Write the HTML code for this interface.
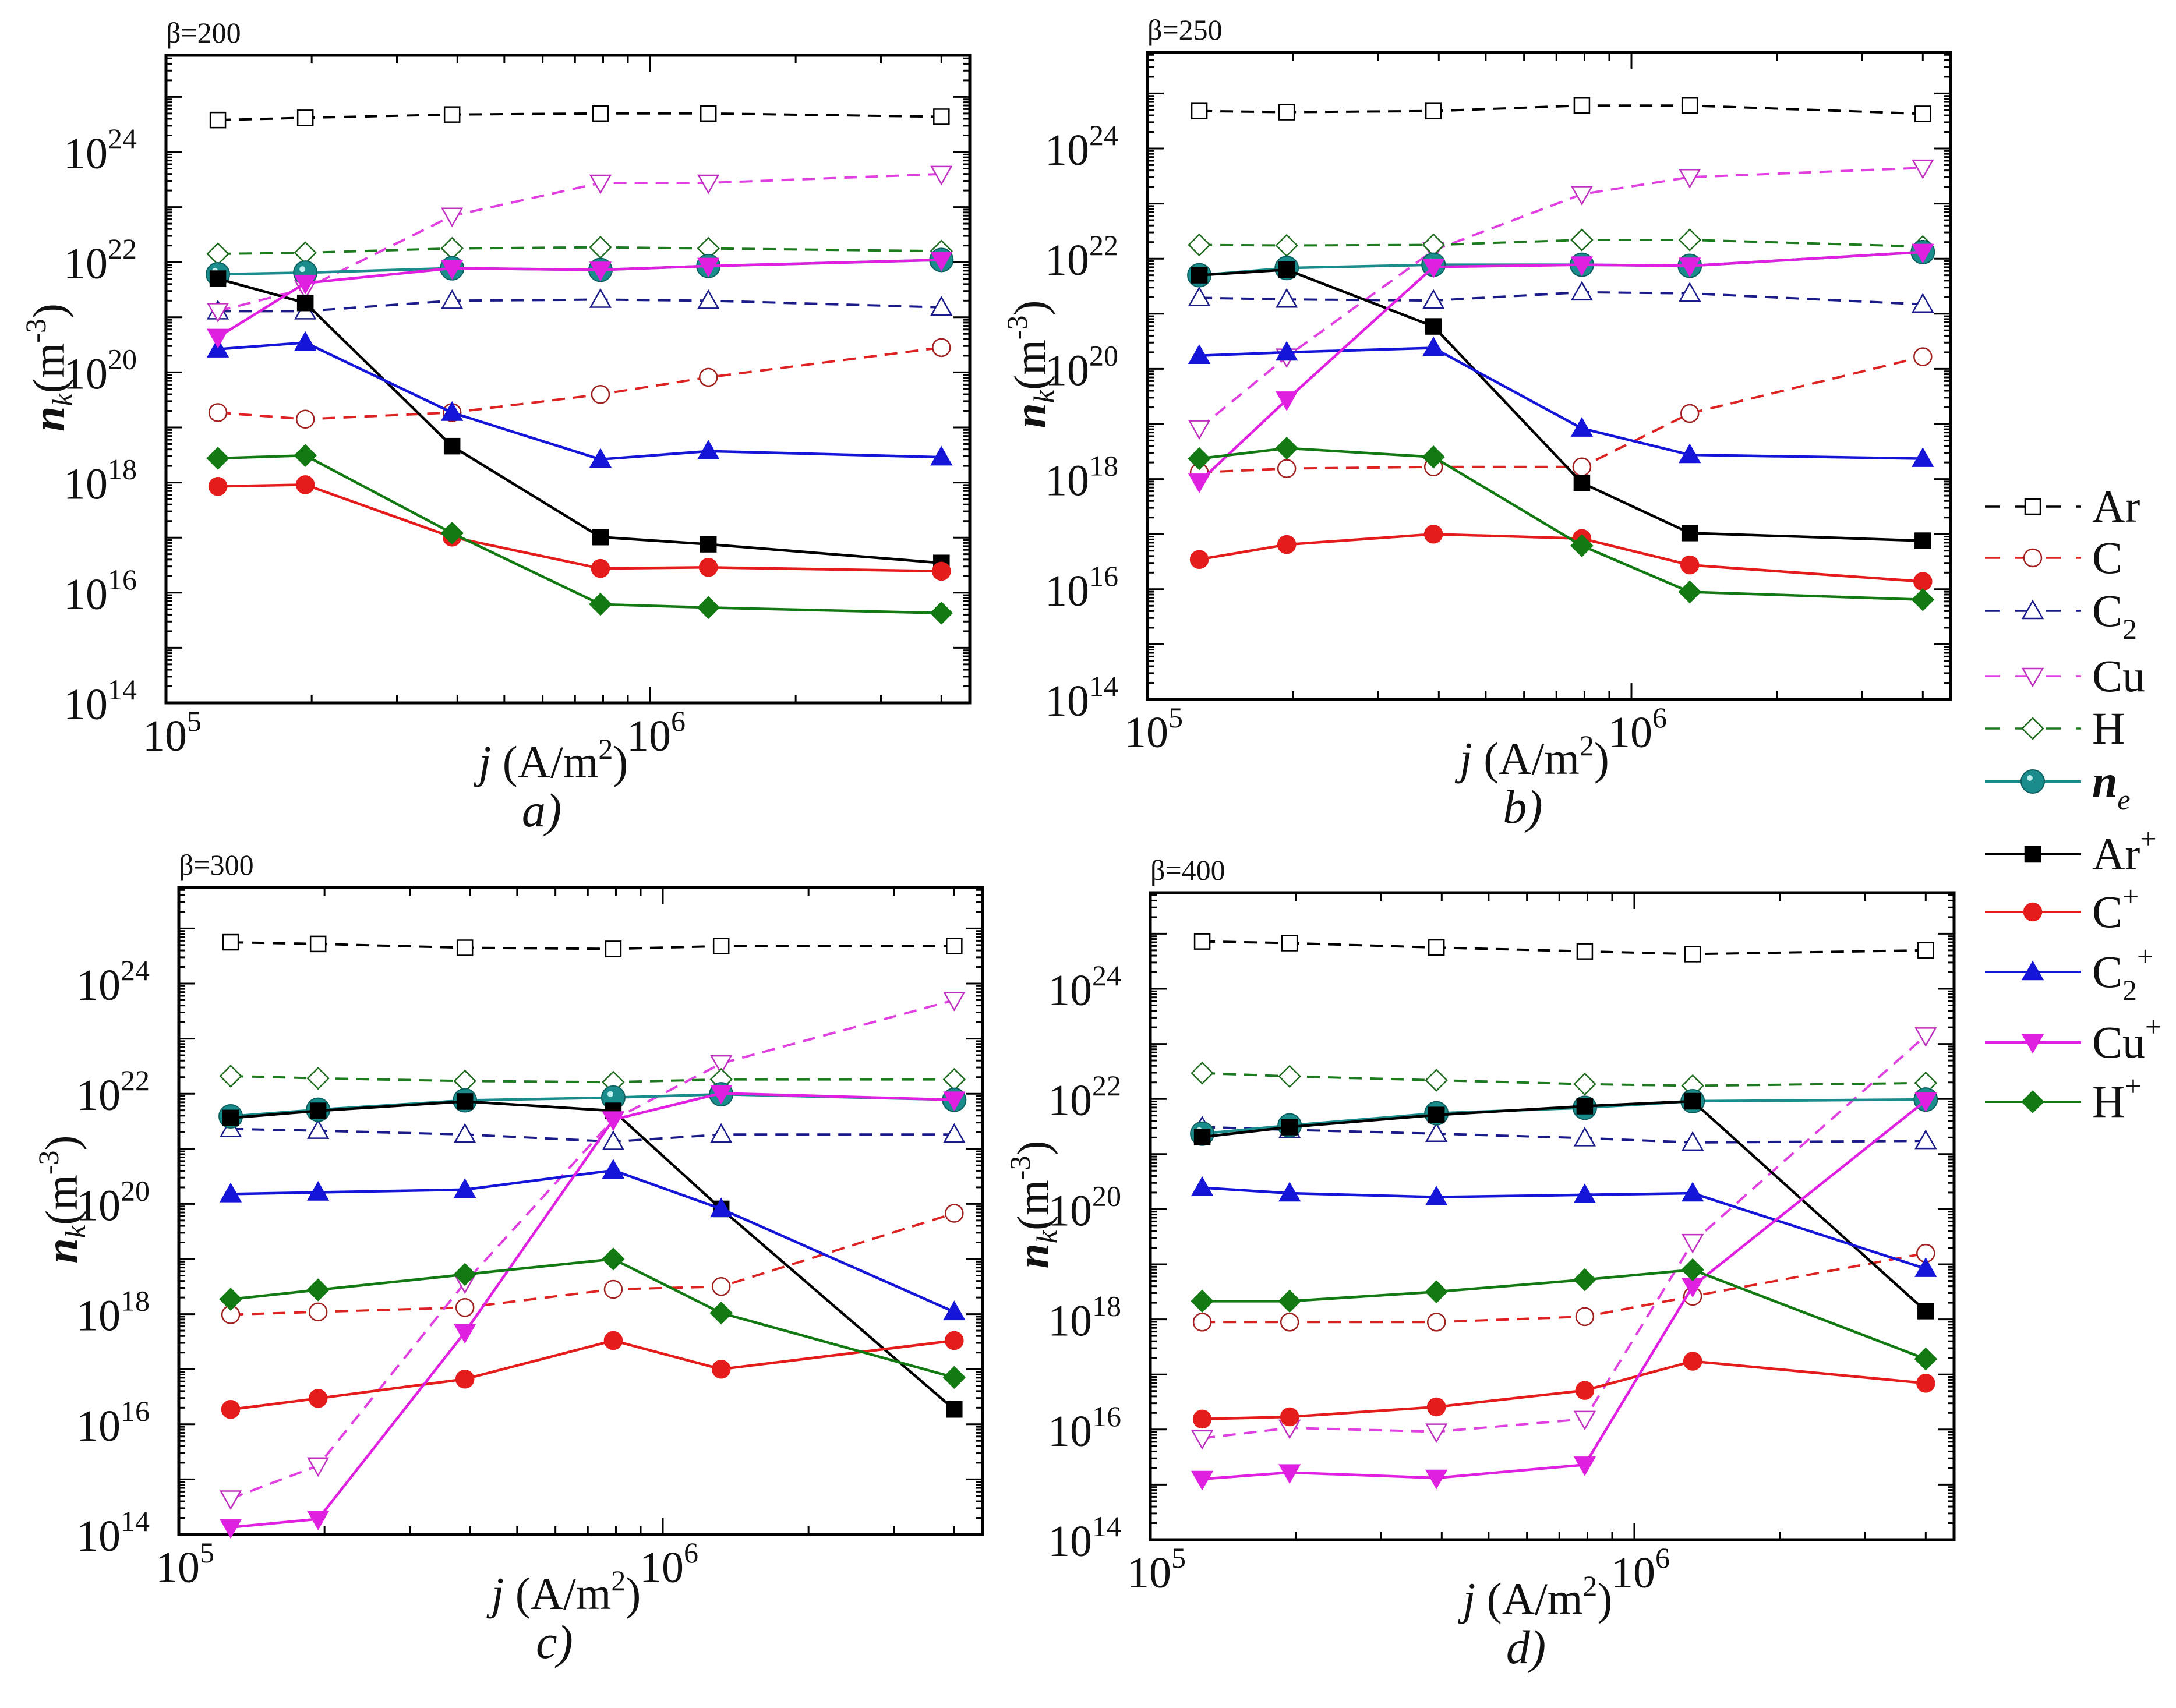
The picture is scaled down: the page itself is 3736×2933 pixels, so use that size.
<!DOCTYPE html>
<html><head><meta charset="utf-8">
<style>
html,body{margin:0;padding:0;background:#fff;}
svg{display:block;}
text{font-family:"Liberation Serif",serif;fill:#111;}
</style></head>
<body>
<svg id="chart" xmlns="http://www.w3.org/2000/svg" width="3736" height="2933" viewBox="0 0 3736 2933">
<rect x="0" y="0" width="3736" height="2933" fill="#fff"/>
<g id="panels"></g>
<g id="legend"></g>
</svg>
<script>
// Current density values (A/m^2)
const jValues = [1.28e5, 1.94e5, 3.9e5, 7.9e5, 1.32e6, 4.0e6];
// log10 of densities, panel a (beta=200)
const a_Ar  = [24.58,24.62,24.68,24.70,24.70,24.64];
const a_C   = [19.27,19.15,19.27,19.60,19.91,20.45];
const a_C2  = [21.11,21.11,21.30,21.32,21.30,21.18];
const a_Cu  = [21.11,21.52,22.84,23.44,23.44,23.60];
const a_H   = [22.15,22.17,22.25,22.27,22.25,22.20];
const a_ne  = [21.78,21.81,21.89,21.86,21.93,22.04];
const a_ArP = [21.70,21.26,18.66,17.01,16.88,16.54];
const a_CP  = [17.93,17.96,17.01,16.44,16.46,16.39];
const a_C2P = [20.42,20.54,19.27,18.42,18.57,18.46];
const a_CuP = [20.64,21.62,21.89,21.86,21.93,22.04];
const a_HP  = [18.44,18.49,17.08,15.79,15.73,15.63];
// panel b (beta=250)
const b_Ar  = [24.68,24.66,24.68,24.78,24.78,24.63];
const b_C   = [18.12,18.19,18.22,18.22,19.19,20.22];
const b_C2  = [21.29,21.26,21.24,21.39,21.37,21.17];
const b_Cu  = [18.92,20.22,22.15,23.17,23.48,23.65];
const b_H   = [22.25,22.24,22.25,22.34,22.34,22.22];
const b_ne  = [21.70,21.83,21.89,21.89,21.87,22.12];
const b_ArP = [21.70,21.80,20.77,17.93,17.02,16.88];
const b_CP  = [16.54,16.81,17.00,16.92,16.44,16.14];
const b_C2P = [20.24,20.30,20.38,18.92,18.44,18.37];
const b_CuP = [17.95,19.44,21.85,21.89,21.87,22.12];
const b_HP  = [18.37,18.56,18.40,16.79,15.95,15.81];
// panel c (beta=300)
const c_Ar  = [24.75,24.72,24.65,24.63,24.68,24.68];
const c_C   = [17.99,18.04,18.12,18.45,18.50,19.83];
const c_C2  = [21.36,21.33,21.26,21.13,21.26,21.26];
const c_Cu  = [14.65,15.25,18.57,21.53,22.55,23.70];
const c_H   = [22.32,22.28,22.23,22.21,22.26,22.26];
const c_ne  = [21.59,21.71,21.88,21.93,21.99,21.89];
const c_ArP = [21.56,21.69,21.86,21.69,19.91,16.27];
const c_CP  = [16.27,16.47,16.82,17.52,17.00,17.52];
const c_C2P = [20.18,20.21,20.26,20.61,19.91,18.04];
const c_CuP = [14.13,14.28,17.67,21.53,22.01,21.89];
const c_HP  = [18.27,18.44,18.72,19.00,18.02,16.85];
// panel d (beta=400)
const d_Ar  = [24.86,24.83,24.75,24.68,24.63,24.70];
const d_C   = [17.95,17.95,17.95,18.05,18.42,19.20];
const d_C2  = [21.49,21.44,21.37,21.29,21.21,21.24];
const d_Cu  = [15.84,16.03,15.96,16.19,19.40,23.15];
const d_H   = [22.47,22.41,22.34,22.27,22.24,22.29];
const d_ne  = [21.37,21.52,21.74,21.84,21.96,21.99];
const d_ArP = [21.31,21.49,21.71,21.87,21.96,18.15];
const d_CP  = [16.19,16.23,16.41,16.71,17.24,16.84];
const d_C2P = [20.39,20.29,20.22,20.26,20.29,18.92];
const d_CuP = [15.10,15.22,15.12,15.36,18.60,21.97];
const d_HP  = [18.33,18.33,18.50,18.72,18.90,17.28];
// tick labels
const yTickExps = [14,16,18,20,22,24];
const xTickExps = [5,6];
const panelTitles = ["β=200","β=250","β=300","β=400"];
const panelLetters = ["a)","b)","c)","d)"];
const speciesNames = ["Ar","C","C2","Cu","H","ne","ArP","CP","C2P","CuP","HP"];

const NS="http://www.w3.org/2000/svg";
function mk(tag, attrs, parent){const e=document.createElementNS(NS,tag);for(const k in attrs)e.setAttribute(k,attrs[k]);if(parent)parent.appendChild(e);return e;}

const styles = {
  Ar:{color:"#000",dash:true,marker:"square",fill:"none",label:"Ar"},
  C:{color:"#d22",dash:true,marker:"circle",fill:"none",label:"C"},
  C2:{color:"#1a1a88",dash:true,marker:"tri",fill:"none",label:"C2"},
  Cu:{color:"#e040e0",dash:true,marker:"dtri",fill:"none",label:"Cu"},
  H:{color:"#1e7a1e",dash:true,marker:"diamond",fill:"none",label:"H"},
  ne:{color:"#1a8c8c",dash:false,marker:"sphere",fill:"#1a8c8c",label:"ne"},
  ArP:{color:"#000",dash:false,marker:"square",fill:"#000",label:"Ar+"},
  CP:{color:"#e51c1c",dash:false,marker:"circle",fill:"#e51c1c",label:"C+"},
  C2P:{color:"#1515d8",dash:false,marker:"tri",fill:"#1515d8",label:"C2+"},
  CuP:{color:"#e020e0",dash:false,marker:"dtri",fill:"#e020e0",label:"Cu+"},
  HP:{color:"#137a13",dash:false,marker:"diamond",fill:"#137a13",label:"H+"}
};
const markerStroke={Ar:"#000",C:"#a02020",C2:"#1a1a88",Cu:"#c030c0",H:"#1e6a1e"};

function marker(g, type, x, y, st, key){
  const s=15; let e;
  const fill = st.fill==="none" ? "#fff" : st.fill;
  const stroke = st.fill==="none" ? (markerStroke[key]||st.color) : st.fill;
  if(type==="square") e=mk("rect",{x:x-s+2,y:y-s+2,width:2*s-4,height:2*s-4,fill:fill,stroke:stroke,"stroke-width":2.5},g);
  else if(type==="circle") e=mk("circle",{cx:x,cy:y,r:s,fill:fill,stroke:stroke,"stroke-width":2.5},g);
  else if(type==="tri") e=mk("polygon",{points:`${x},${y-s-2} ${x+s+2},${y+s-2} ${x-s-2},${y+s-2}`,fill:fill,stroke:stroke,"stroke-width":2.5},g);
  else if(type==="dtri") e=mk("polygon",{points:`${x},${y+s+2} ${x+s+2},${y-s+2} ${x-s-2},${y-s+2}`,fill:fill,stroke:stroke,"stroke-width":2.5},g);
  else if(type==="diamond") e=mk("polygon",{points:`${x},${y-s-3} ${x+s+3},${y} ${x},${y+s+3} ${x-s-3},${y}`,fill:fill,stroke:stroke,"stroke-width":2.5},g);
  else if(type==="sphere"){ e=mk("circle",{cx:x,cy:y,r:s+5,fill:"#1a8c8c",stroke:"#0d5f5f","stroke-width":2},g); mk("circle",{cx:x-5,cy:y-6,r:5,fill:"#bfeeee"},g);}
  return e;
}

const frames = [
  {x0:285,y0:95,x1:1665,y1:1207},
  {x0:1970,y0:90,x1:3349,y1:1201},
  {x0:307,y0:1524,x1:1687,y1:2635},
  {x0:1975,y0:1533,x1:3355,y1:2644}
];
const panelData = [
  {Ar:a_Ar,C:a_C,C2:a_C2,Cu:a_Cu,H:a_H,ne:a_ne,ArP:a_ArP,CP:a_CP,C2P:a_C2P,CuP:a_CuP,HP:a_HP},
  {Ar:b_Ar,C:b_C,C2:b_C2,Cu:b_Cu,H:b_H,ne:b_ne,ArP:b_ArP,CP:b_CP,C2P:b_C2P,CuP:b_CuP,HP:b_HP},
  {Ar:c_Ar,C:c_C,C2:c_C2,Cu:c_Cu,H:c_H,ne:c_ne,ArP:c_ArP,CP:c_CP,C2P:c_C2P,CuP:c_CuP,HP:c_HP},
  {Ar:d_Ar,C:d_C,C2:d_C2,Cu:d_Cu,H:d_H,ne:d_ne,ArP:d_ArP,CP:d_CP,C2P:d_C2P,CuP:d_CuP,HP:d_HP}
];
const DEC_Y=94.6, DEC_X=831;
const drawOrder=["Ar","C","C2","Cu","H","ne","ArP","CP","C2P","CuP","HP"];
const panelsG=document.getElementById("panels");

frames.forEach((f,pi)=>{
  const g=mk("g",{},panelsG);
  
  
  const xs=v=>f.x0+(Math.log10(v)-5)*DEC_X;
  const ys=l=>f.y1-(l-14)*DEC_Y;
  const xMaxLog=5+(f.x1-f.x0)/DEC_X, yMaxLog=14+(f.y1-f.y0)/DEC_Y;
  const tg=mk("g",{stroke:"#000","stroke-width":3},g);
  for(let d=14; d<=Math.floor(yMaxLog); d++){
    for(let m=1;m<10;m++){
      const l=d+Math.log10(m); if(l>yMaxLog) break;
      const y=ys(l); const len = m===1 ? 28 : 11;
      mk("line",{x1:f.x0,y1:y,x2:f.x0+len,y2:y},tg);
      mk("line",{x1:f.x1,y1:y,x2:f.x1-len,y2:y},tg);
    }
  }
  for(let d=5; d<=6; d++){
    for(let m=1;m<10;m++){
      const l=d+Math.log10(m); if(l>xMaxLog) break;
      const x=f.x0+(l-5)*DEC_X; const len = m===1 ? 28 : 14;
      mk("line",{x1:x,y1:f.y1,x2:x,y2:f.y1-len},tg);
      mk("line",{x1:x,y1:f.y0,x2:x,y2:f.y0+len},tg);
    }
  }
  const fr=mk("rect",{x:f.x0,y:f.y0,width:f.x1-f.x0,height:f.y1-f.y0,fill:"none",stroke:"#000","stroke-width":5},g);
  
  
  yTickExps.forEach(e=>{
    const t=mk("text",{x:f.x0-50,y:ys(e)+28,"font-size":76,"text-anchor":"end"},g);
    
    
    t.textContent="10";
    const s=mk("tspan",{"font-size":50,dy:-34},t); s.textContent=String(e);
  });
  xTickExps.forEach(e=>{
    const x=f.x0+(e-5)*DEC_X;
    const t=mk("text",{x:x-40,y:f.y1+82,"font-size":76},g);
    
    
    t.textContent="10";
    const s=mk("tspan",{"font-size":50,dy:-34},t); s.textContent=String(e);
  });
  const cx=(f.x0+f.x1)/2;
  const xt=mk("text",{x:cx-25,y:f.y1+128,"font-size":78,"text-anchor":"middle"},g);
  
  
  const ji=mk("tspan",{"font-style":"italic"},xt); ji.textContent="j";
  const t2=mk("tspan",{},xt); t2.textContent=" (A/m";
  const t3=mk("tspan",{"font-size":50,dy:-32},xt); t3.textContent="2";
  const t4=mk("tspan",{dy:32},xt); t4.textContent=")";
  const lt=mk("text",{x:cx-45,y:f.y1+212,"font-size":82,"font-style":"italic","text-anchor":"middle"},g);
  
  
  lt.textContent=panelLetters[pi];
  const bt=mk("text",{x:f.x0,y:f.y0-22,"font-size":50},g);
  
  
  bt.textContent=panelTitles[pi];
  const ycx=f.x0-175, ycy=(f.y0+f.y1)/2-20;
  const yt=mk("text",{x:ycx,y:ycy,"font-size":78,"text-anchor":"middle",transform:`rotate(-90 ${ycx} ${ycy})`},g);
  
  
  const n=mk("tspan",{"font-style":"italic","font-weight":"bold"},yt); n.textContent="n";
  const k=mk("tspan",{"font-style":"italic","font-size":50,dy:14},yt); k.textContent="k";
  const u=mk("tspan",{dy:-14},yt); u.textContent="(m";
  const u2=mk("tspan",{"font-size":50,dy:-32},yt); u2.textContent="-3";
  const u3=mk("tspan",{dy:32},yt); u3.textContent=")";
  const data=panelData[pi];
  drawOrder.forEach(key=>{
    const st=styles[key]; const vals=data[key];
    const sg=mk("g",{},g);
    
    
    const pts=vals.map((v,i)=>`${xs(jValues[i]).toFixed(1)},${ys(v).toFixed(1)}`).join(" ");
    const pl=mk("polyline",{points:pts,fill:"none",stroke:st.color,"stroke-width":st.dash?4:4.5,"stroke-dasharray":st.dash?"22,14":"none"},sg);
    
    
    vals.forEach((v,i)=>{
      const m=marker(sg,st.marker,xs(jValues[i]),ys(v),st,key);
      
      
    });
  });
});

const legendY=[870,958,1049,1161,1251,1342,1467,1566,1669,1790,1892];
const lg=document.getElementById("legend");
speciesNames.forEach((key,i)=>{
  const st=styles[key]; const y=legendY[i];
  const eg=mk("g",{},lg);
  
  
  mk("line",{x1:3408,y1:y,x2:3573,y2:y,stroke:st.color,"stroke-width":st.dash?3.5:4,"stroke-dasharray":st.dash?"26,26":"none"},eg);
  marker(eg,st.marker,3490,y,st,key);
  const t=mk("text",{x:3592,y:y+26,"font-size":78},eg);
  const lab=st.label;
  if(key==="ne"){ const a=mk("tspan",{"font-style":"italic","font-weight":"bold"},t); a.textContent="n"; const b=mk("tspan",{"font-style":"italic","font-size":50,dy:22},t); b.textContent="e"; }
  else {
    const base=lab.replace("+","").replace("2","");
    const a=mk("tspan",{},t); a.textContent=base;
    if(lab.includes("2")){ const b=mk("tspan",{"font-size":50,dy:22},t); b.textContent="2"; }
    if(lab.includes("+")){ const c=mk("tspan",{"font-size":50,dy:lab.includes("2")?-58:-36},t); c.textContent="+"; }
  }
});
</script>
</body></html>
